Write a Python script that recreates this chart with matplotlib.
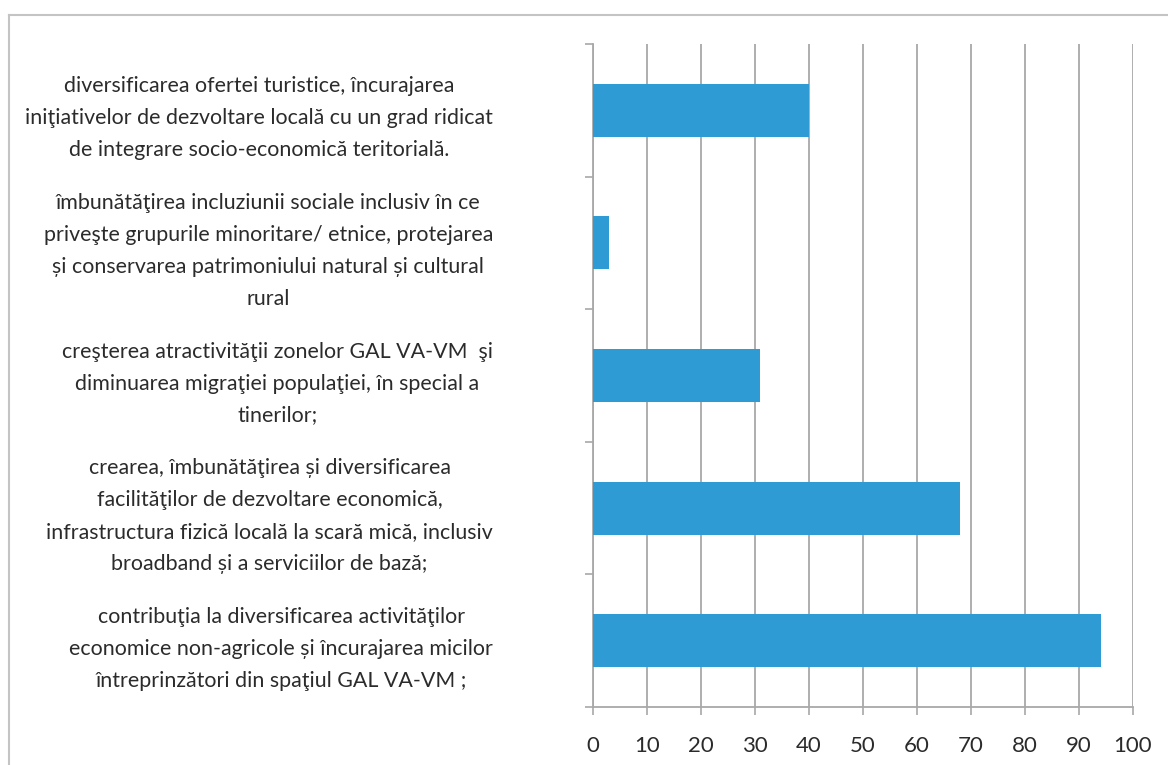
import numpy as np
import matplotlib.pyplot as plt
from matplotlib.lines import Line2D

plt.rcParams['font.family'] = ['Lato', 'DejaVu Sans']

categorii = [
    "diversificarea ofertei turistice, încurajarea\n"
    "iniţiativelor de dezvoltare locală cu un grad ridicat\n"
    "de integrare socio-economică teritorială.",
    "îmbunătăţirea incluziunii sociale inclusiv în ce\n"
    "priveşte grupurile minoritare/ etnice, protejarea\n"
    "și conservarea patrimoniului natural și cultural\n"
    "rural",
    "creşterea atractivităţii zonelor GAL VA-VM  şi\n"
    "diminuarea migraţiei populaţiei, în special a\n"
    "tinerilor;",
    "crearea, îmbunătăţirea și diversificarea\n"
    "facilităţilor de dezvoltare economică,\n"
    "infrastructura fizică locală la scară mică, inclusiv\n"
    "broadband și a serviciilor de bază;",
    "contribuţia la diversificarea activităţilor\n"
    "economice non-agricole și încurajarea micilor\n"
    "întreprinzători din spaţiul GAL VA-VM ;",
]
valori = [40, 3, 31, 68, 94]

W, H = 1168, 765
fig = plt.figure(figsize=(W / 100, H / 100), dpi=100)
ax = fig.add_axes([593 / W, 1 - 707 / H, (1133 - 593) / W, (707 - 44) / H])

n = len(valori)
y = np.arange(n)[::-1]
ax.barh(y, valori, height=0.4, color='#2f9bd4', zorder=3)

ax.set_xlim(0, 100)
ax.set_ylim(-0.5, n - 0.5)
ax.set_xticks(np.arange(0, 101, 10))
ax.grid(axis='x', color='#a8a8a8', linewidth=1.3, zorder=0)

ax.set_yticks(y)
ax.set_yticklabels(categorii, fontsize=15.4, color='#2b2b2b', linespacing=1.75)
for lbl in ax.get_yticklabels():
    lbl.set_multialignment('center')
    lbl.set_horizontalalignment('right')
ax.set_yticks(np.arange(-0.5, n, 1), minor=True)
ax.tick_params(axis='y', which='major', length=0, pad=72)
ax.tick_params(axis='y', which='minor', length=6, color='#a8a8a8', width=1.2)
ax.tick_params(axis='x', length=6, color='#a8a8a8', width=1.2, pad=15,
               labelsize=16, labelcolor='#2b2b2b')

for s in ['top', 'right']:
    ax.spines[s].set_visible(False)
for s in ['left', 'bottom']:
    ax.spines[s].set_color('#a8a8a8')
    ax.spines[s].set_linewidth(1.3)

# chenarul graficului (sus si stanga)
fig.add_artist(Line2D([9 / W, 1], [1 - 15 / H, 1 - 15 / H], color='#c4c4c4', linewidth=1.5))
fig.add_artist(Line2D([9 / W, 9 / W], [0, 1 - 15 / H], color='#c4c4c4', linewidth=1.5))

fig.savefig('out.png', dpi=100, facecolor='white')
